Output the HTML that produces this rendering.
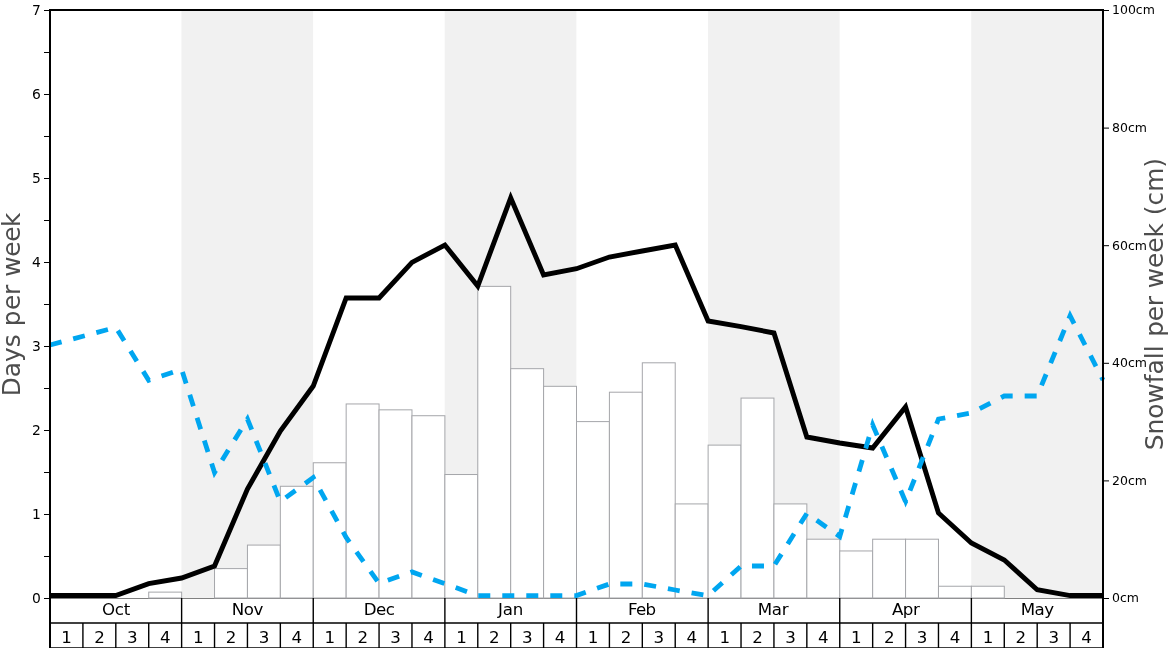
<!DOCTYPE html>
<html lang="en">
<head>
<meta charset="utf-8">
<title>Snowfall chart</title>
<style>
html,body{margin:0;padding:0;background:#fff;}
body{width:1168px;height:648px;overflow:hidden;}
svg{display:block;}
text{font-family:"DejaVu Sans", "Liberation Sans", sans-serif;fill:#000;}
</style>
</head>
<body>
<svg width="1168" height="648" viewBox="0 0 1168 648">
<rect x="0" y="0" width="1168" height="648" fill="#ffffff"/>
<g fill="#f1f1f1">
<rect x="181.47" y="10.00" width="131.63" height="588.00"/>
<rect x="444.73" y="10.00" width="131.62" height="588.00"/>
<rect x="707.98" y="10.00" width="131.62" height="588.00"/>
<rect x="971.23" y="10.00" width="131.62" height="588.00"/>
</g>
<line x1="50.00" y1="598.50" x2="1103.00" y2="598.50" stroke="#808080" stroke-width="1"/>
<g fill="#ffffff" stroke="#a5a6aa" stroke-width="1">
<rect x="148.72" y="592.12" width="32.91" height="5.88"/>
<rect x="214.53" y="568.60" width="32.91" height="29.40"/>
<rect x="247.44" y="545.08" width="32.91" height="52.92"/>
<rect x="280.34" y="486.28" width="32.91" height="111.72"/>
<rect x="313.25" y="462.76" width="32.91" height="135.24"/>
<rect x="346.16" y="403.96" width="32.91" height="194.04"/>
<rect x="379.06" y="409.84" width="32.91" height="188.16"/>
<rect x="411.97" y="415.72" width="32.91" height="182.28"/>
<rect x="444.88" y="474.52" width="32.91" height="123.48"/>
<rect x="477.78" y="286.36" width="32.91" height="311.64"/>
<rect x="510.69" y="368.68" width="32.91" height="229.32"/>
<rect x="543.59" y="386.32" width="32.91" height="211.68"/>
<rect x="576.50" y="421.60" width="32.91" height="176.40"/>
<rect x="609.41" y="392.20" width="32.91" height="205.80"/>
<rect x="642.31" y="362.80" width="32.91" height="235.20"/>
<rect x="675.22" y="503.92" width="32.91" height="94.08"/>
<rect x="708.12" y="445.12" width="32.91" height="152.88"/>
<rect x="741.03" y="398.08" width="32.91" height="199.92"/>
<rect x="773.94" y="503.92" width="32.91" height="94.08"/>
<rect x="806.84" y="539.20" width="32.91" height="58.80"/>
<rect x="839.75" y="550.96" width="32.91" height="47.04"/>
<rect x="872.66" y="539.20" width="32.91" height="58.80"/>
<rect x="905.56" y="539.20" width="32.91" height="58.80"/>
<rect x="938.47" y="586.24" width="32.91" height="11.76"/>
<rect x="971.38" y="586.24" width="32.91" height="11.76"/>
</g>
<polyline points="50.00,595.57 82.91,595.57 115.81,595.57 148.72,583.70 181.62,578.00 214.53,566.00 247.44,489.00 280.34,431.00 313.25,386.00 346.16,298.00 379.06,298.00 411.97,262.40 444.88,245.00 477.78,286.00 510.69,197.80 543.59,275.00 576.50,268.70 609.41,257.00 642.31,251.00 675.22,245.00 708.12,321.00 741.03,326.60 773.94,333.00 806.84,437.00 839.75,443.00 872.66,448.00 905.56,407.00 938.47,513.00 971.38,543.00 1004.28,560.00 1037.19,589.70 1070.09,595.57 1103.00,595.57" fill="none" stroke="#000" stroke-width="4.9" stroke-linejoin="miter" stroke-linecap="butt"/>
<polyline points="50.00,345.05 82.91,336.20 115.81,327.35 148.72,380.30 181.62,369.30 214.53,472.60 247.44,419.00 280.34,501.50 313.25,477.60 346.16,537.50 379.06,583.30 411.97,571.90 444.88,583.70 477.78,595.57 510.69,595.57 543.59,595.57 576.50,595.57 609.41,584.00 642.31,584.00 675.22,590.00 708.12,595.57 741.03,566.00 773.94,566.00 806.84,513.40 839.75,536.50 872.66,424.90 905.56,501.70 938.47,419.00 971.38,413.00 1004.28,396.00 1037.19,396.00 1070.09,315.80 1103.00,380.00" fill="none" stroke="#00a6f0" stroke-width="4.8" stroke-dasharray="12 12" stroke-linejoin="miter" stroke-linecap="butt"/>
<polygon points="903.4,501.6 907.8,499.9 907.9,502.3 905.5,507.4" fill="#00a6f0"/>
<g stroke="#000" stroke-width="2" fill="none">
<line x1="49.00" y1="10.00" x2="1104.00" y2="10.00"/>
<line x1="50.00" y1="10.00" x2="50.00" y2="648"/>
<line x1="1103.00" y1="10.00" x2="1103.00" y2="648"/>
</g>
<g stroke="#000" stroke-width="1.4" fill="none">
<line x1="50.00" y1="623.0" x2="1103.00" y2="623.0"/>
<line x1="50.00" y1="647.85" x2="1103.00" y2="647.85"/>
<line x1="82.91" y1="623" x2="82.91" y2="648"/>
<line x1="115.81" y1="623" x2="115.81" y2="648"/>
<line x1="148.72" y1="623" x2="148.72" y2="648"/>
<line x1="181.62" y1="598.00" x2="181.62" y2="648"/>
<line x1="214.53" y1="623" x2="214.53" y2="648"/>
<line x1="247.44" y1="623" x2="247.44" y2="648"/>
<line x1="280.34" y1="623" x2="280.34" y2="648"/>
<line x1="313.25" y1="598.00" x2="313.25" y2="648"/>
<line x1="346.16" y1="623" x2="346.16" y2="648"/>
<line x1="379.06" y1="623" x2="379.06" y2="648"/>
<line x1="411.97" y1="623" x2="411.97" y2="648"/>
<line x1="444.88" y1="598.00" x2="444.88" y2="648"/>
<line x1="477.78" y1="623" x2="477.78" y2="648"/>
<line x1="510.69" y1="623" x2="510.69" y2="648"/>
<line x1="543.59" y1="623" x2="543.59" y2="648"/>
<line x1="576.50" y1="598.00" x2="576.50" y2="648"/>
<line x1="609.41" y1="623" x2="609.41" y2="648"/>
<line x1="642.31" y1="623" x2="642.31" y2="648"/>
<line x1="675.22" y1="623" x2="675.22" y2="648"/>
<line x1="708.12" y1="598.00" x2="708.12" y2="648"/>
<line x1="741.03" y1="623" x2="741.03" y2="648"/>
<line x1="773.94" y1="623" x2="773.94" y2="648"/>
<line x1="806.84" y1="623" x2="806.84" y2="648"/>
<line x1="839.75" y1="598.00" x2="839.75" y2="648"/>
<line x1="872.66" y1="623" x2="872.66" y2="648"/>
<line x1="905.56" y1="623" x2="905.56" y2="648"/>
<line x1="938.47" y1="623" x2="938.47" y2="648"/>
<line x1="971.38" y1="598.00" x2="971.38" y2="648"/>
<line x1="1004.28" y1="623" x2="1004.28" y2="648"/>
<line x1="1037.19" y1="623" x2="1037.19" y2="648"/>
<line x1="1070.09" y1="623" x2="1070.09" y2="648"/>
</g>
<g stroke="#000" stroke-width="1" fill="none">
<line x1="44.00" y1="598.50" x2="49.00" y2="598.50"/>
<line x1="44.00" y1="556.50" x2="49.00" y2="556.50"/>
<line x1="44.00" y1="514.50" x2="49.00" y2="514.50"/>
<line x1="44.00" y1="472.50" x2="49.00" y2="472.50"/>
<line x1="44.00" y1="430.50" x2="49.00" y2="430.50"/>
<line x1="44.00" y1="388.50" x2="49.00" y2="388.50"/>
<line x1="44.00" y1="346.50" x2="49.00" y2="346.50"/>
<line x1="44.00" y1="304.50" x2="49.00" y2="304.50"/>
<line x1="44.00" y1="262.50" x2="49.00" y2="262.50"/>
<line x1="44.00" y1="220.50" x2="49.00" y2="220.50"/>
<line x1="44.00" y1="178.50" x2="49.00" y2="178.50"/>
<line x1="44.00" y1="136.50" x2="49.00" y2="136.50"/>
<line x1="44.00" y1="94.50" x2="49.00" y2="94.50"/>
<line x1="44.00" y1="52.50" x2="49.00" y2="52.50"/>
<line x1="44.00" y1="10.50" x2="49.00" y2="10.50"/>
<line x1="1104.00" y1="598.50" x2="1109.00" y2="598.50"/>
<line x1="1104.00" y1="480.90" x2="1109.00" y2="480.90"/>
<line x1="1104.00" y1="363.30" x2="1109.00" y2="363.30"/>
<line x1="1104.00" y1="245.70" x2="1109.00" y2="245.70"/>
<line x1="1104.00" y1="128.10" x2="1109.00" y2="128.10"/>
<line x1="1104.00" y1="10.50" x2="1109.00" y2="10.50"/>
</g>
<g font-size="13.89" text-anchor="end">
<text x="40.90" y="603.35">0</text>
<text x="40.90" y="519.35">1</text>
<text x="40.90" y="435.35">2</text>
<text x="40.90" y="351.35">3</text>
<text x="40.90" y="267.35">4</text>
<text x="40.90" y="183.35">5</text>
<text x="40.90" y="99.35">6</text>
<text x="40.90" y="15.35">7</text>
</g>
<g font-size="12.5" text-anchor="start">
<text x="1112.00" y="601.70">0cm</text>
<text x="1112.00" y="484.70">20cm</text>
<text x="1112.00" y="366.70">40cm</text>
<text x="1112.00" y="249.70">60cm</text>
<text x="1112.00" y="131.70">80cm</text>
<text x="1112.00" y="13.70">100cm</text>
</g>
<g font-size="16.67" text-anchor="middle">
<text x="115.98" y="615.3" letter-spacing="-0.20">Oct</text>
<text x="247.33" y="615.3" letter-spacing="-0.45">Nov</text>
<text x="379.13" y="615.3" letter-spacing="-0.50">Dec</text>
<text x="510.59" y="615.3" letter-spacing="-0.20">Jan</text>
<text x="641.71" y="615.3" letter-spacing="-0.70">Feb</text>
<text x="773.05" y="615.3" letter-spacing="-0.27">Mar</text>
<text x="905.58" y="615.3" letter-spacing="-0.47">Apr</text>
<text x="1037.21" y="615.3" letter-spacing="-0.47">May</text>
<text x="66.55" y="642.9">1</text>
<text x="99.46" y="642.9">2</text>
<text x="132.37" y="642.9">3</text>
<text x="165.27" y="642.9">4</text>
<text x="198.18" y="642.9">1</text>
<text x="231.08" y="642.9">2</text>
<text x="263.99" y="642.9">3</text>
<text x="296.90" y="642.9">4</text>
<text x="329.80" y="642.9">1</text>
<text x="362.71" y="642.9">2</text>
<text x="395.62" y="642.9">3</text>
<text x="428.52" y="642.9">4</text>
<text x="461.43" y="642.9">1</text>
<text x="494.33" y="642.9">2</text>
<text x="527.24" y="642.9">3</text>
<text x="560.15" y="642.9">4</text>
<text x="593.05" y="642.9">1</text>
<text x="625.96" y="642.9">2</text>
<text x="658.87" y="642.9">3</text>
<text x="691.77" y="642.9">4</text>
<text x="724.68" y="642.9">1</text>
<text x="757.58" y="642.9">2</text>
<text x="790.49" y="642.9">3</text>
<text x="823.40" y="642.9">4</text>
<text x="856.30" y="642.9">1</text>
<text x="889.21" y="642.9">2</text>
<text x="922.12" y="642.9">3</text>
<text x="955.02" y="642.9">4</text>
<text x="987.93" y="642.9">1</text>
<text x="1020.83" y="642.9">2</text>
<text x="1053.74" y="642.9">3</text>
<text x="1086.65" y="642.9">4</text>
</g>
<text font-size="25" text-anchor="middle" style="fill:#4d4d4d" dx="0 0 0 0.3 0 0.1 0.5 -0.1 0 0.1 -0.1 -0.4 -0.4" transform="translate(20,304.5) rotate(-90) scale(0.99,1)">Days per week</text>
<text font-size="25" text-anchor="middle" style="fill:#4d4d4d" dx="0 0 0 0 0 0 0 0 0 0.7 -0.1 -0.3 0 -0.3 0 0 0 0 0 0 0 0" transform="translate(1162.9,304.1) rotate(-90) scale(0.9943,1)">Snowfall per week (cm)</text>
</svg>
</body>
</html>
